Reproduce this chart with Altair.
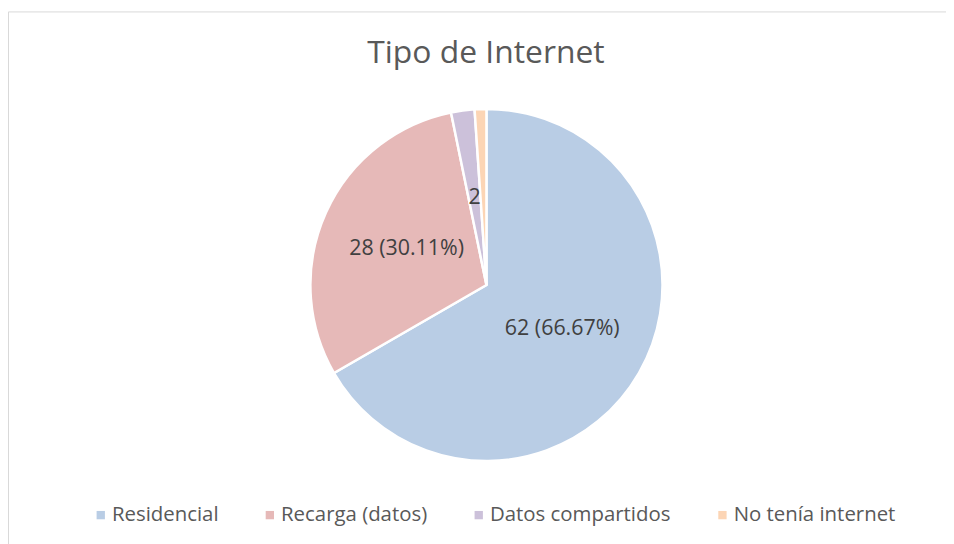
import altair as alt
import pandas as pd

categories = ["Residencial", "Recarga (datos)", "Datos compartidos", "No tenía internet"]
values = [62, 28, 2, 1]
labels = ["62 (66.67%)", "28 (30.11%)", "2", ""]
colors = ["#B9CDE5", "#E6B9B8", "#CCC1DA", "#FCD5B5"]

df = pd.DataFrame({"cat": categories, "val": values, "lab": labels,
                   "order": list(range(len(categories)))})

FONT = "Open Sans"

base = alt.Chart(df).encode(
    theta=alt.Theta("val:Q", stack=True),
    order=alt.Order("order:Q"),
)

pie = base.mark_arc(radius=177, stroke="white", strokeWidth=2.5).encode(
    color=alt.Color(
        "cat:N",
        sort=categories,
        scale=alt.Scale(domain=categories, range=colors),
        legend=alt.Legend(
            title=None, orient="none", direction="horizontal", columns=4,
            legendX=83, legendY=496, symbolType="square", symbolSize=70,
            symbolStrokeWidth=0, labelFontSize=20.5, labelFont=FONT,
            labelColor="#595959", columnPadding=41, labelOffset=1,
            labelLimit=300,
        ),
    ),
    x=alt.value(481),
    y=alt.value(275),
)

text = base.mark_text(radius=88, fontSize=21.5, font=FONT, color="#404040").encode(
    text="lab:N",
    x=alt.value(481),
    y=alt.value(275),
)

chart = alt.layer(pie, text).properties(
    width=943,
    height=540,
    padding={"left": 0, "top": 2, "right": 0, "bottom": 0},
    autosize=alt.AutoSizeParams(type="none"),
    title=alt.TitleParams(
        "Tipo de Internet", fontSize=32, font=FONT, fontWeight="normal",
        color="#595959", offset=-84, baseline="alphabetic", anchor="middle",
        dx=9,
    ),
).configure_view(stroke="#D9D9D9", strokeWidth=1)

chart.save("out.html", embed_options={"renderer": "svg", "actions": False})
